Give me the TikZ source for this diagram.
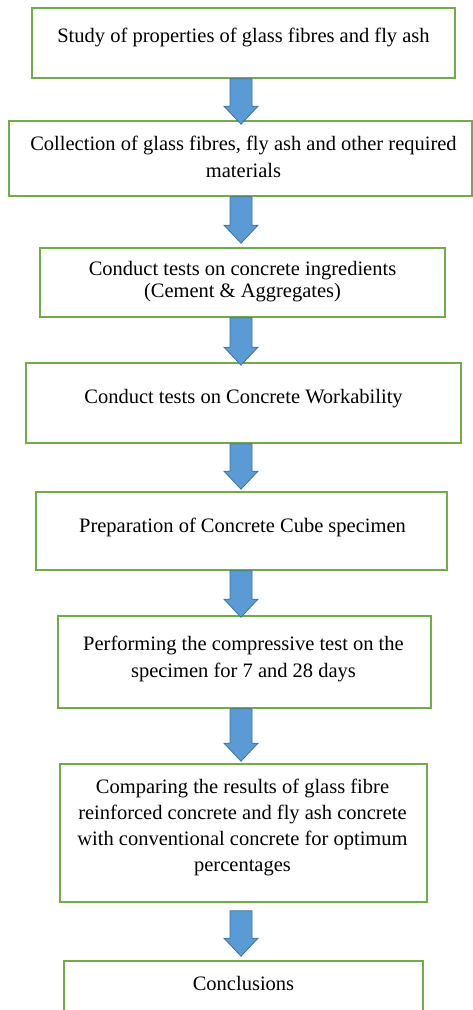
\documentclass[tikz,border=0pt]{standalone}
\usepackage{fontspec}
\setmainfont{Liberation Serif}
\usetikzlibrary{calc}
\definecolor{boxgreen}{HTML}{70AD47}
\definecolor{arrfill}{HTML}{5B9BD5}
\definecolor{arrline}{HTML}{41719C}
\tikzset{
  flowbox/.style={draw=boxgreen, line width=1.6pt, fill=white, rectangle, inner sep=0pt},
  flowtext/.style={anchor=north, inner sep=0pt, align=center, font=\fontsize{20.5}{26.7}\selectfont},
  flowarr/.style={fill=arrfill, draw=arrline, line width=0.8pt, line join=miter}
}
\newcommand\flowarrow[4]{%
  \path[flowarr] let \p1=($(#1.south)+(0,#3)$), \p2=($(#2.north)+(0,#4)$) in
    (230pt,\y1) -- (252pt,\y1) -- (252pt,\y2+18pt) -- (258pt,\y2+18pt) --
    (241pt,\y2) -- (224pt,\y2+18pt) -- (230pt,\y2+18pt) -- cycle;}
\begin{document}
\begin{tikzpicture}[x=1pt,y=-1pt]
\useasboundingbox (0,0) rectangle (473,1010);
\clip (0,0) rectangle (473,1010);
\fill[white] (0,0) rectangle (473,1010);
% boxes
\node[flowbox, minimum width=423pt, minimum height=70pt] (b1) at (243.5,43) {};
\node[flowbox, minimum width=463pt, minimum height=75pt] (b2) at (240.5,158.5) {};
\node[flowbox, minimum width=405pt, minimum height=69pt] (b3) at (242.5,282.5) {};
\node[flowbox, minimum width=435pt, minimum height=80pt] (b4) at (243.5,403) {};
\node[flowbox, minimum width=411pt, minimum height=78pt] (b5) at (241.5,531) {};
\node[flowbox, minimum width=373pt, minimum height=92pt] (b6) at (244.5,662) {};
\node[flowbox, minimum width=367pt, minimum height=138pt] (b7) at (243.5,833) {};
\node[flowbox, minimum width=359pt, minimum height=79pt] (b8) at (243.5,1000.5) {};
% texts
\node[flowtext] (t1) at (243.5,28) {Study of properties of glass fibres and fly ash};
\node[flowtext] (t2) at (243.5,136) {Collection of glass fibres, fly ash and other required\\materials};
\node[flowtext, font=\fontsize{20.5}{22}\selectfont] (t3) at (242.5,261) {Conduct tests on concrete ingredients\\(Cement \& Aggregates)};
\node[flowtext] (t4) at (243.5,389.5) {Conduct tests on Concrete Workability};
\node[flowtext] (t5) at (242.5,518) {Preparation of Concrete Cube specimen};
\node[flowtext] (t6) at (243.5,636) {Performing the compressive test on the\\specimen for 7 and 28 days};
\node[flowtext, font=\fontsize{20.5}{26.1}\selectfont] (t7) at (242.5,779) {Comparing the results of glass fibre\\reinforced concrete and fly ash concrete\\with conventional concrete for optimum\\percentages};
\node[flowtext] (t8) at (243.5,976) {Conclusions};
% arrows
\flowarrow{b1}{b2}{0}{4}
\flowarrow{b2}{b3}{0}{-4}
\flowarrow{b3}{b4}{0}{3}
\flowarrow{b4}{b5}{0}{-2}
\flowarrow{b5}{b6}{0}{2}
\flowarrow{b6}{b7}{0}{-2}
\flowarrow{b7}{b8}{8}{-4}
\end{tikzpicture}
\end{document}
